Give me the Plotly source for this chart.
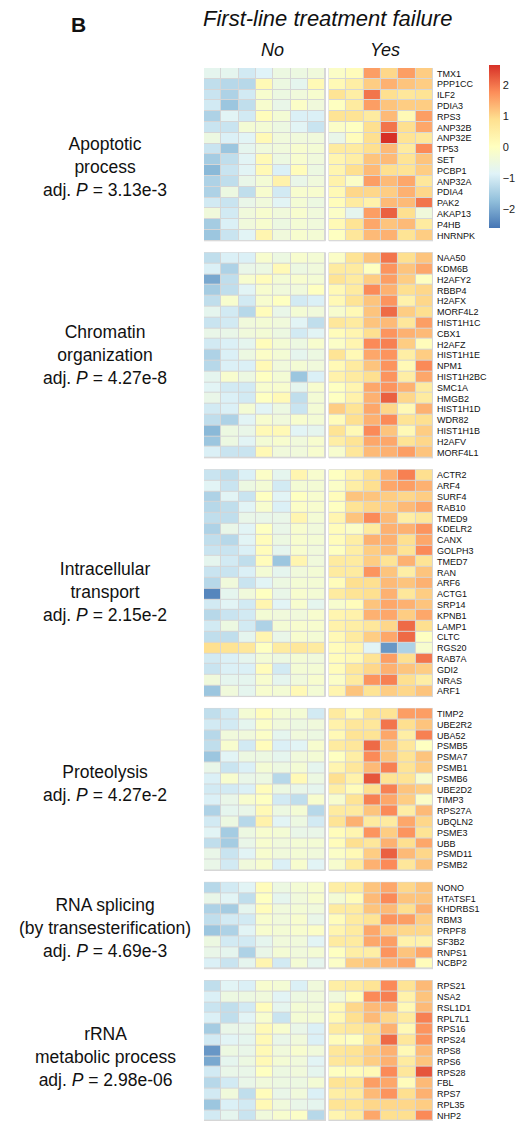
import plotly.graph_objects as go

FIG_W, FIG_H = 522, 1124

# ---- data -------------------------------------------------------------------
column_groups = ["No", "Yes"]

apoptotic_genes = ["TMX1", "PPP1CC", "ILF2", "PDIA3", "RPS3", "ANP32B", "ANP32E", "TP53",
                   "SET", "PCBP1", "ANP32A", "PDIA4", "PAK2", "AKAP13", "P4HB", "HNRNPK"]
apoptotic_no = [
    [-0.7, -0.7, -1.0, -0.85, -0.5, -0.5, -0.4],
    [-1.2, -1.3, -1.3, 0.2, -0.5, -0.7, 0.2],
    [-1.1, -1.4, -1.0, -0.2, -0.5, -0.4, -0.2],
    [-1.0, -1.6, -1.2, -0.2, -0.6, -0.1, -0.4],
    [-1.4, -0.8, -1.0, 0.1, -0.3, -0.9, -0.9],
    [-1.1, -1.1, -0.3, -0.3, -0.5, -0.8, -1.1],
    [-0.5, -0.9, -0.8, 0.2, -0.4, -0.4, -0.4],
    [-1.1, -1.6, -0.7, -0.4, -0.4, -0.2, -0.3],
    [-1.5, -1.2, -0.8, 0.2, -0.5, -0.2, -0.4],
    [-1.8, -1.1, -0.8, 0.2, -0.9, 0.1, -0.5],
    [-1.4, -1.2, -0.6, -0.3, 0.4, -0.6, -0.4],
    [-1.4, -0.5, -1.2, -0.2, -1.0, -0.2, -0.2],
    [-1.0, -1.1, -0.6, -0.4, -0.8, -0.3, -0.5],
    [-0.4, -1.0, -0.4, -0.2, -0.4, -0.2, -0.4],
    [-1.5, -0.9, -0.4, -0.2, -0.5, -0.3, -0.4],
    [-1.6, -1.1, -0.8, 0.3, -0.4, -0.2, -0.3],
]
apoptotic_yes = [
    [-0.1, 0.1, 1.6, 1.0, 1.6, 1.1],
    [0.2, 0.5, 1.1, 1.4, 1.2, 1.1],
    [0.8, 0.5, 2.0, 0.9, 0.7, 0.8],
    [0.0, 0.6, 1.6, 1.2, 1.1, 1.1],
    [0.8, 0.8, 0.6, 1.3, 0.2, 1.6],
    [-0.1, 0.0, 0.9, 2.0, 0.9, 1.5],
    [-0.6, 0.1, 0.9, 2.65, 0.8, 0.7],
    [0.6, 0.6, 0.9, 1.3, 0.6, 1.8],
    [0.3, 0.5, 1.2, 1.3, 0.8, 1.2],
    [0.3, 0.9, 1.3, 0.9, 0.8, 1.1],
    [0.4, -0.1, 1.6, 1.3, 1.5, 0.7],
    [0.2, 1.0, 1.0, 1.1, 1.4, 1.0],
    [0.1, 0.6, 0.4, 1.3, 1.3, 2.0],
    [-0.1, -0.7, 1.6, 2.2, 0.9, -0.4],
    [0.2, 0.8, 1.5, 1.2, 1.3, 0.6],
    [0.0, 0.7, 1.3, 1.4, 0.8, 1.1],
]

chromatin_genes = ["NAA50", "KDM6B", "H2AFY2", "RBBP4", "H2AFX", "MORF4L2", "HIST1H1C", "CBX1",
                   "H2AFZ", "HIST1H1E", "NPM1", "HIST1H2BC", "SMC1A", "HMGB2", "HIST1H1D",
                   "WDR82", "HIST1H1B", "H2AFV", "MORF4L1"]
chromatin_no = [
    [-1.2, -0.9, -0.9, -0.2, -0.5, -0.2, -0.3],
    [-0.9, -1.4, -0.6, -0.5, 0.2, -0.5, -0.4],
    [-2.0, -1.2, -0.2, 0.1, -0.3, -0.2, -0.3],
    [-1.5, -1.2, -0.8, -0.2, -0.4, -0.4, 0.0],
    [-1.2, -0.2, -1.0, -0.2, 0.0, -1.0, -0.9],
    [-0.7, -1.0, -1.3, 0.1, -0.6, -0.3, -0.4],
    [-1.1, -1.0, -0.4, -0.3, -0.4, -0.8, -1.2],
    [-0.6, -0.6, -0.4, -0.3, -0.5, -1.0, -0.8],
    [-1.0, -0.9, -0.7, 0.1, -0.3, -0.5, -0.2],
    [-1.4, -0.9, -0.5, -0.1, -0.3, -0.7, -0.5],
    [-1.3, -0.9, -0.9, 0.2, -0.4, -0.3, -0.4],
    [-0.7, -0.2, -0.5, 0.0, -0.3, -1.6, -0.9],
    [-0.8, -1.0, -1.0, -0.2, -0.2, -0.7, -0.2],
    [-0.6, -0.9, -1.0, 0.0, 0.2, -1.2, -0.3],
    [-1.0, -0.9, -0.3, -0.8, -0.5, -1.1, -0.3],
    [-1.2, -1.4, -0.8, -0.2, -0.4, -0.2, -0.3],
    [-1.8, -0.5, -0.6, 0.2, 0.2, -0.8, -0.7],
    [-1.6, -0.5, -0.8, -0.3, -0.2, -0.4, -0.2],
    [-0.9, -1.1, -1.1, 0.2, -0.4, -0.4, -0.2],
]
chromatin_yes = [
    [-0.1, 0.8, 1.2, 2.0, 0.9, 1.2],
    [0.6, 0.6, 0.0, 1.7, 1.2, 1.5],
    [0.8, 0.6, 1.1, 1.6, 1.1, 0.0],
    [0.2, 0.6, 1.8, 1.4, 0.9, 1.0],
    [0.2, 0.8, 1.2, 1.7, 0.4, 1.0],
    [-0.2, 0.2, 1.2, 2.1, 1.1, 0.9],
    [0.7, 0.6, 1.2, 1.3, 0.7, 1.6],
    [0.1, 0.3, 0.9, 1.7, 1.4, 1.3],
    [-0.1, 0.3, 1.8, 1.9, 1.1, 0.1],
    [0.8, 0.2, 1.5, 1.7, 0.5, 1.1],
    [0.2, 0.6, 1.2, 1.7, 0.2, 1.8],
    [0.4, 0.6, 0.9, 1.7, 0.5, 1.5],
    [0.0, 0.3, 1.5, 1.7, 1.4, 0.6],
    [0.0, 0.4, 1.4, 2.2, 1.0, 0.6],
    [1.1, 0.8, 1.5, 1.0, 0.2, 1.4],
    [0.1, 0.9, 1.4, 1.8, 0.8, 0.9],
    [0.8, 0.2, 1.8, 1.2, 0.2, 1.1],
    [0.5, 0.8, 1.5, 1.5, 0.8, 1.0],
    [-0.2, 0.7, 1.3, 1.4, 1.6, 1.2],
]

transport_genes = ["ACTR2", "ARF4", "SURF4", "RAB10", "TMED9", "KDELR2", "CANX", "GOLPH3",
                   "TMED7", "RAN", "ARF6", "ACTG1", "SRP14", "KPNB1", "LAMP1", "CLTC", "RGS20",
                   "RAB7A", "GDI2", "NRAS", "ARF1"]
transport_no = [
    [-1.1, -1.2, -0.9, -0.1, -0.7, 0.3, -0.2],
    [-0.8, -1.1, -0.5, -0.3, -1.0, -0.3, -0.3],
    [-1.4, -0.8, -1.1, 0.0, -0.8, 0.0, -0.2],
    [-1.3, -1.2, -0.8, -0.2, -0.9, -0.1, -0.2],
    [-1.2, -1.2, -0.6, -0.6, -0.6, 0.3, -0.3],
    [-1.4, -0.6, -0.8, 0.0, -0.6, -0.2, -0.4],
    [-1.2, -1.3, -0.8, 0.1, -0.5, -0.2, -0.3],
    [-1.1, -1.1, -0.9, 0.1, -0.7, -0.2, -0.4],
    [-0.7, -1.0, -1.2, 0.1, -1.6, 0.3, -0.4],
    [-1.1, -1.1, -0.9, -0.3, -0.7, -0.4, -0.3],
    [-1.3, -0.4, -1.1, -0.8, -0.5, -0.3, -0.3],
    [-2.4, -0.7, -0.4, 0.0, -0.6, -0.2, -0.3],
    [-1.0, -0.8, -1.0, 0.3, -0.8, -0.2, -0.7],
    [-1.3, -1.1, -1.0, -0.3, -0.4, -0.4, -0.2],
    [-1.0, -0.5, -1.0, -1.4, -0.3, -0.2, -0.2],
    [-1.2, -1.2, -0.7, 0.3, -0.6, -0.2, -0.3],
    [0.9, 0.8, 0.7, 0.0, 0.6, 0.7, 0.6],
    [-1.0, -0.9, -0.7, -0.3, -0.5, -0.3, -0.4],
    [-1.1, -0.9, -0.9, 0.1, -1.0, -0.3, -0.3],
    [-0.4, -0.7, -0.7, -0.2, -0.7, -0.4, -0.2],
    [-1.6, -0.4, -0.7, -0.2, -0.3, 0.2, -0.3],
]
transport_yes = [
    [0.0, 0.4, 0.9, 1.4, 1.9, 0.9],
    [-0.1, 0.5, 0.9, 1.5, 1.6, 1.4],
    [0.1, 1.2, 1.2, 1.1, 1.0, 1.1],
    [0.0, 0.8, 1.0, 1.1, 1.3, 1.5],
    [0.3, 1.2, 1.8, 1.3, 0.5, 0.7],
    [0.1, -0.1, 0.6, 1.4, 1.4, 1.7],
    [0.1, 0.5, 1.4, 1.4, 0.9, 1.5],
    [0.0, 0.5, 1.1, 1.3, 0.8, 1.8],
    [0.6, 0.6, 1.1, 0.8, 1.4, 0.8],
    [0.6, 0.6, 1.7, 1.2, 0.5, 1.2],
    [0.1, 0.9, 0.9, 1.3, 1.2, 1.4],
    [0.6, 0.8, 0.9, 1.4, 0.7, 1.1],
    [-0.2, 0.1, 1.2, 1.5, 1.4, 1.2],
    [0.3, 0.4, 1.4, 1.5, 1.1, 1.5],
    [0.4, 0.5, 0.7, 1.0, 2.1, 0.9],
    [0.2, 0.6, 1.1, 1.5, 2.1, 0.0],
    [0.1, 0.3, -0.8, -2.2, -1.4, -0.2],
    [0.1, 0.2, 0.8, 1.6, 0.9, 2.0],
    [0.1, 0.7, 1.0, 1.4, 1.2, 1.1],
    [-0.1, 0.6, 1.7, 1.9, 0.9, 0.5],
    [0.3, 1.2, 0.8, 1.1, 1.0, 1.2],
]

proteolysis_genes = ["TIMP2", "UBE2R2", "UBA52", "PSMB5", "PSMA7", "PSMB1", "PSMB6", "UBE2D2",
                     "TIMP3", "RPS27A", "UBQLN2", "PSME3", "UBB", "PSMD11", "PSMB2"]
proteolysis_no = [
    [-1.2, -1.0, -0.3, 0.1, -0.3, -0.3, -1.0],
    [-1.0, -1.0, -0.7, -0.1, -0.4, -0.5, -0.4],
    [-1.3, -0.4, -0.4, -0.1, -0.7, -0.4, -0.5],
    [-1.2, -0.2, -1.0, 0.1, -0.9, -0.8, -0.2],
    [-1.6, -0.8, -0.5, -0.5, -0.7, -0.4, -0.3],
    [-0.6, -1.1, -0.9, -0.3, -0.5, -0.3, -0.7],
    [-0.9, -0.2, -0.6, -0.5, -1.3, 0.2, -0.5],
    [-1.0, -1.0, -0.9, 0.1, -0.5, -0.6, -0.7],
    [-0.9, -0.6, -0.2, 0.0, -1.0, -1.2, -0.2],
    [-1.4, -0.7, -0.6, 0.2, -0.5, -0.3, -1.3],
    [-1.0, -0.5, -1.3, 0.4, -0.8, -0.5, -1.0],
    [-0.8, -1.5, -0.5, -0.2, -0.3, -0.6, -0.6],
    [-1.2, -1.5, -0.6, -0.2, -0.4, -0.3, -0.3],
    [-0.6, -1.1, -0.8, -0.2, -0.4, -0.3, -0.4],
    [-0.6, -1.0, -0.4, -0.2, -0.9, -0.2, -0.8],
]
proteolysis_yes = [
    [0.6, 0.2, 0.8, 0.8, 1.6, 1.6],
    [0.4, 0.7, 0.7, 2.0, 0.9, 1.2],
    [0.2, 0.8, 0.8, 1.5, 0.5, 1.9],
    [0.6, 0.7, 2.1, 1.2, 0.7, 0.0],
    [0.0, 0.5, 1.8, 1.2, 0.8, 1.2],
    [0.3, 0.7, 1.3, 1.9, 0.8, 1.1],
    [0.9, 0.4, 2.3, 0.8, 0.8, -0.2],
    [0.5, 0.1, 0.9, 1.9, 1.2, 1.1],
    [-0.2, 0.8, 1.9, 1.5, 1.1, -0.1],
    [0.6, 0.6, 1.2, 1.8, 0.5, 1.3],
    [0.8, 1.4, 0.6, 0.6, 1.5, 1.0],
    [0.1, 0.3, 1.7, 1.1, 1.7, 0.8],
    [0.1, 0.9, 0.7, 1.4, 0.9, 1.5],
    [-0.1, 0.2, 1.1, 2.2, 1.3, 1.0],
    [-0.2, 0.6, 1.4, 1.8, 0.7, 1.2],
]

splicing_genes = ["NONO", "HTATSF1", "KHDRBS1", "RBM3", "PRPF8", "SF3B2", "RNPS1", "NCBP2"]
splicing_no = [
    [-1.3, -1.0, -0.8, 0.1, -0.5, -0.3, -0.2],
    [-0.6, -0.8, -1.2, 0.0, -0.7, -0.4, -0.2],
    [-1.4, -1.5, -0.7, 0.1, -0.4, -0.3, -0.4],
    [-1.2, -1.0, -1.0, -0.2, -0.4, -0.2, -0.6],
    [-1.6, -1.4, -0.8, -0.2, -0.3, -0.2, -0.1],
    [-0.5, -1.0, -1.0, -0.7, -0.4, -0.4, -0.8],
    [-0.6, -0.7, -1.4, -0.6, -0.3, -0.4, -0.3],
    [-0.9, -1.1, -0.7, 0.3, -1.0, -0.3, -0.7],
]
splicing_yes = [
    [0.5, 0.6, 1.2, 1.5, 1.0, 1.2],
    [-0.3, 0.1, 1.3, 1.8, 1.2, 1.2],
    [0.6, 0.6, 1.2, 1.3, 0.9, 1.4],
    [0.1, 0.6, 0.8, 1.7, 1.6, 1.1],
    [0.3, 0.6, 1.5, 1.1, 1.0, 1.0],
    [0.6, 0.6, 1.5, 1.6, 0.4, 0.4],
    [0.0, 0.5, 0.5, 1.7, 1.2, 1.5],
    [-0.1, 1.1, 1.2, 1.4, 1.5, 0.1],
]

rrna_genes = ["RPS21", "NSA2", "RSL1D1", "RPL7L1", "RPS16", "RPS24", "RPS8", "RPS6", "RPS28",
              "FBL", "RPS7", "RPL35", "NHP2"]
rrna_no = [
    [-1.2, -0.8, -0.9, -0.2, -0.3, -0.9, -0.4],
    [-0.9, -0.5, -0.5, -0.4, -0.8, -0.5, -0.4],
    [-1.1, -1.2, -1.0, 0.1, -0.7, -0.3, -0.4],
    [-0.9, -1.2, -0.8, -0.2, -1.1, -0.3, -0.3],
    [-1.5, -0.6, -0.6, 0.2, -0.2, -0.6, -0.9],
    [-1.0, -0.8, -0.7, 0.2, -0.6, -0.4, -0.9],
    [-2.2, -0.5, -0.6, 0.2, -0.4, -0.2, -0.4],
    [-2.0, -0.7, -0.5, 0.2, -0.3, -0.4, -0.8],
    [-1.0, -0.6, -0.6, 0.0, -0.5, -0.4, -0.7],
    [-1.3, -1.0, -0.6, -0.4, -0.5, -0.5, -0.3],
    [-1.0, -0.4, -1.2, 0.1, -0.6, -0.4, -0.9],
    [-1.6, -0.9, -1.0, 0.2, -0.4, -0.6, -0.7],
    [-1.0, -0.7, -1.1, -0.4, -0.2, -0.1, -1.3],
]
rrna_yes = [
    [0.5, 0.6, 0.8, 1.8, 0.8, 1.3],
    [-0.4, 0.1, 1.8, 1.9, 0.4, 1.2],
    [0.2, 1.0, 1.3, 1.4, 0.2, 1.3],
    [0.2, 0.9, 1.3, 1.0, 0.6, 1.9],
    [0.6, 0.7, 0.9, 1.4, 0.2, 1.7],
    [0.1, 0.0, 0.9, 2.1, 0.7, 1.7],
    [0.7, 0.8, 1.1, 1.4, 0.2, 1.3],
    [0.7, 0.8, 1.1, 1.4, 0.6, 1.2],
    [0.0, 0.1, 0.2, 1.8, 0.7, 2.3],
    [0.8, 0.8, 1.6, 1.5, 0.1, 1.3],
    [0.5, 0.6, 1.3, 1.7, 0.9, 1.4],
    [0.8, 0.8, 1.0, 1.0, 1.0, 1.1],
    [0.3, 0.6, 1.5, 0.9, 0.9, 1.8],
]

block_titles = [
    "Apoptotic<br>process<br>adj. <i>P</i> = 3.13e-3",
    "Chromatin<br>organization<br>adj. <i>P</i> = 4.27e-8",
    "Intracellular<br>transport<br>adj. <i>P</i> = 2.15e-2",
    "Proteolysis<br>adj. <i>P</i> = 4.27e-2",
    "RNA splicing<br>(by transesterification)<br>adj. <i>P</i> = 4.69e-3",
    "rRNA<br>metabolic process<br>adj. <i>P</i> = 2.98e-06",
]

colorbar_ticks = [-2, -1, 0, 1, 2]
z_min, z_max = -2.6, 2.65

# ---- layout helpers -----------------------------------------------------------
blocks = [
    (apoptotic_genes, apoptotic_no, apoptotic_yes),
    (chromatin_genes, chromatin_no, chromatin_yes),
    (transport_genes, transport_no, transport_yes),
    (proteolysis_genes, proteolysis_no, proteolysis_yes),
    (splicing_genes, splicing_no, splicing_yes),
    (rrna_genes, rrna_no, rrna_yes),
]

BLOCK_GAP = 1.1   # blank space between gene sets, in rows
GROUP_GAP = 0.2   # blank space between the two sample groups, in columns

M_L, M_R, M_T, M_B = 204, 89, 68, 3
PLOT_W = FIG_W - M_L - M_R
PLOT_H = FIG_H - M_T - M_B


def px_x(px):
    return (px - M_L) / PLOT_W


def px_y(py):
    return (FIG_H - M_B - py) / PLOT_H


n_no = len(apoptotic_no[0])
n_yes = len(apoptotic_yes[0])
x_no = list(range(n_no))
x_yes = [n_no + GROUP_GAP + j for j in range(n_yes)]

# RdYlBu (7 classes), reversed
palette = ["#4575B4", "#91BFDB", "#E0F3F8", "#FFFFBF", "#FEE090", "#FC8D59", "#D73027"]
colorscale = [[i / (len(palette) - 1), c] for i, c in enumerate(palette)]

BORDER = "#d6d6d6"

fig = go.Figure()
shapes = []
tickvals, ticktext = [], []
offset = 0.0
for genes, no_vals, yes_vals in blocks:
    ys = [offset + i for i in range(len(genes))]
    tickvals += ys
    ticktext += genes
    for xs, vals in ((x_no, no_vals), (x_yes, yes_vals)):
        fig.add_trace(go.Heatmap(
            x=xs, y=ys, z=vals, coloraxis="coloraxis",
            xgap=1, ygap=1, hoverinfo="skip",
        ))
        shapes.append(dict(
            type="rect", xref="x", yref="y", layer="below",
            x0=xs[0] - 0.5, x1=xs[-1] + 0.5, y0=ys[0] - 0.5, y1=ys[-1] + 0.5,
            fillcolor=BORDER, line=dict(color=BORDER, width=1),
        ))
    offset += len(genes) + BLOCK_GAP

y_last = tickvals[-1]

FONT = "Arial, Liberation Sans, Helvetica, sans-serif"
annotations = [
    dict(text="<b>B</b>", x=px_x(78), y=px_y(25), font=dict(size=21)),
    dict(text="<i>First-line treatment failure</i>", x=px_x(327), y=px_y(18), font=dict(size=22)),
    dict(text="<i>No</i>", x=px_x(272), y=px_y(50), font=dict(size=18)),
    dict(text="<i>Yes</i>", x=px_x(385), y=px_y(50), font=dict(size=18)),
]
label_centers = [167, 355, 592, 784, 928, 1057]
for title, cy in zip(block_titles, label_centers):
    annotations.append(dict(text=title, x=px_x(105), y=px_y(cy), font=dict(size=17.5), align="center"))
for a in annotations:
    a.update(xref="paper", yref="paper", showarrow=False, xanchor="center", yanchor="middle")
    a["font"].update(family=FONT, color="#111111")

fig.update_layout(
    width=FIG_W, height=FIG_H,
    margin=dict(l=M_L, r=M_R, t=M_T, b=M_B, autoexpand=False),
    paper_bgcolor="white", plot_bgcolor="white",
    font=dict(family=FONT, color="#111111"),
    showlegend=False,
    xaxis=dict(range=[-0.5, x_yes[-1] + 0.5], visible=False, fixedrange=True),
    yaxis=dict(
        range=[y_last + 0.5, -0.5], side="right",
        tickvals=tickvals, ticktext=ticktext, ticks="",
        tickfont=dict(size=9, family=FONT, color="#111111"),
        showgrid=False, zeroline=False, showline=False, ticklabelstandoff=3,
    ),
    coloraxis=dict(
        colorscale=colorscale, cmin=z_min, cmax=z_max,
        colorbar=dict(
            xref="container", yref="container",
            x=489 / FIG_W, xanchor="left",
            y=1 - 69 / FIG_H, yanchor="top",
            thickness=11, len=163, lenmode="pixels",
            xpad=0, ypad=0, outlinewidth=0,
            tickvals=colorbar_ticks, ticks="",
            tickfont=dict(size=11, family=FONT, color="#222222"),
        ),
    ),
    shapes=shapes,
    annotations=annotations,
)

fig.write_html("out.html")
